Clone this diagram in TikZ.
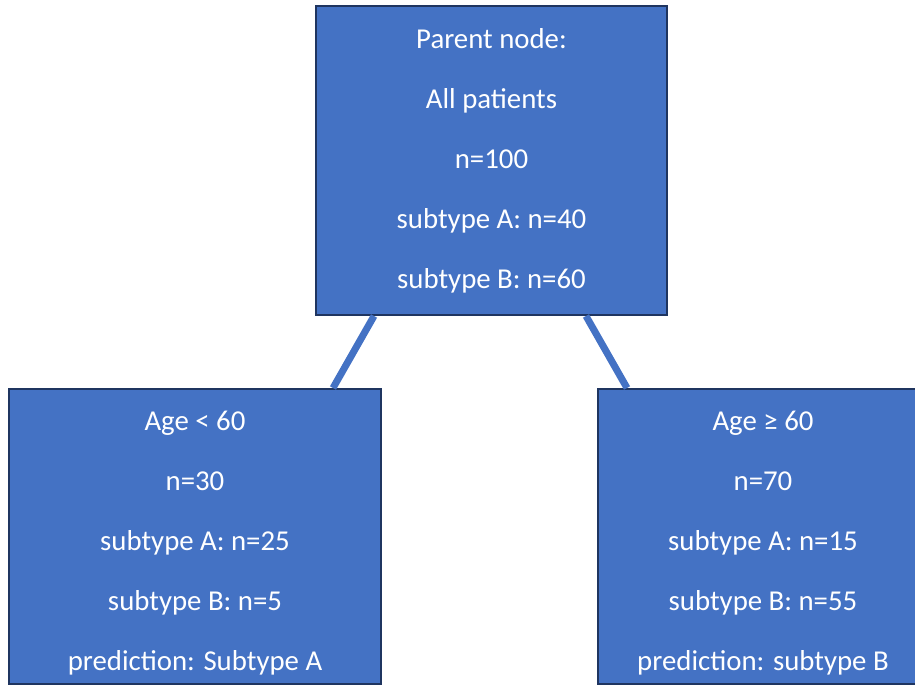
\documentclass[tikz,border=0pt]{standalone}
\usepackage{fontspec}
\setmainfont{Carlito}
\usetikzlibrary{positioning}
\definecolor{boxblue}{HTML}{4472C4}
\definecolor{boxline}{HTML}{1F3560}

\begin{document}
\begin{tikzpicture}[x=0.75pt,y=-0.75pt]
\tikzstyle{every node}+=[inner sep=0pt]
\tikzstyle{treebox}=[draw=boxline, line width=1.5pt, fill=boxblue, text=white, align=center, font=\fontsize{21.6}{45}\selectfont]
\tikzstyle{branch}=[draw=boxblue, line width=5.25pt]
\useasboundingbox (0,0) rectangle (915,685);
\node[treebox, minimum width=263.25pt, minimum height=231.75pt] (parent) at (491.5,160.5)
  {Parent node:\\All patients\\n=100\\subtype A: n=40\\subtype B: n=60};
\node[treebox, minimum width=279pt, minimum height=221.25pt] (young) at (195,536.5)
  {\rule{0pt}{24pt}Age < 60\\n=30\\subtype A: n=25\\subtype B: n=5\\prediction: Subtype A};
\node[treebox, minimum width=247.5pt, minimum height=221.25pt] (old) at (763,536.5)
  {\rule{0pt}{24pt}Age ≥ 60\\n=70\\subtype A: n=15\\subtype B: n=55\\prediction: subtype B};
\draw[branch] ([xshift=44.25pt]parent.south west) -- ([xshift=-36.75pt]young.north east);
\draw[branch] ([xshift=-61.5pt]parent.south east) -- ([xshift=22.5pt]old.north west);
\end{tikzpicture}
\end{document}
